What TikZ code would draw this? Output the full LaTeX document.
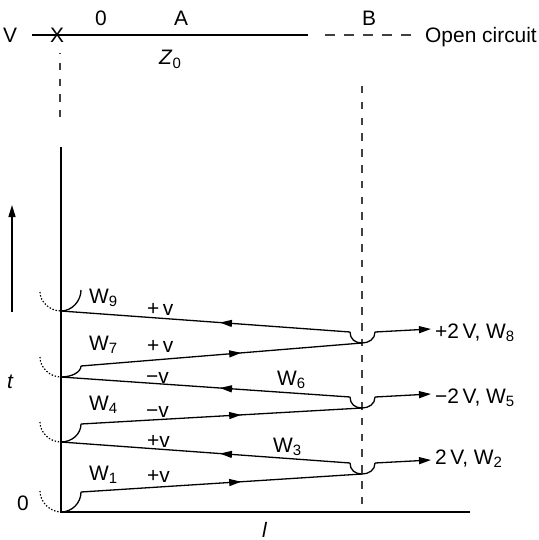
\documentclass[tikz,border=0pt]{standalone}
\usepackage{fontspec}
\setmainfont{Liberation Sans}
\usetikzlibrary{arrows.meta,decorations.markings}
\newcommand\sbs[1]{\raisebox{-0.33ex}{\fontsize{15}{16}\selectfont #1}}
\begin{document}
\begin{tikzpicture}[x=1bp,y=-1bp,
  every node/.style={font=\fontsize{21}{25}\selectfont, inner sep=0pt},
  lbl/.style={anchor=base west},
  wave/.style={line width=1.3bp},
  axisline/.style={line width=1.5bp},
  tip/.style={-{Triangle[length=12bp,width=7bp]}},
  midarrow/.style={wave, postaction={decorate}, decoration={markings,
      mark=at position #1 with {\arrow{Triangle[length=12bp,width=7bp]}}}},
  dotarc/.style={line width=1.2bp, dash pattern=on 1.4bp off 1.8bp},
  vdash/.style={line width=1.4bp, draw=black!75, dash pattern=on 7.5bp off 8.3bp},
  hdash/.style={line width=1.3bp, draw=black!75, dash pattern=on 9.5bp off 9.5bp}
]
\useasboundingbox (0,0) rectangle (539,540);

% ---- top line ----
\coordinate (tl) at (32,35);
\coordinate (tr) at (308,35);
\coordinate (dl) at (325,35);
\coordinate (dr) at (411,35);
\draw[wave] (tl) -- (tr);
\draw[hdash] (dl) -- (dr);
\node[lbl] (v) at (3,43) {V};
\node (x) at (57,35) {X};
\node[anchor=base] (z) at (101,26) {0};
\node[anchor=base] (a) at (181,26) {A};
\node[anchor=base] (b) at (369,26) {B};
\node[lbl] (oc) at (425,43) {Open circuit};
\node[lbl] (z0) at (159,65) {\textit{Z}\sbs{0}};

% ---- axes ----
\coordinate (ld1) at (60,53);
\coordinate (ld2) at (60,117);
\draw[vdash, dash phase=6bp] (ld1) -- (ld2);
\coordinate (ax0) at (61,147);
\coordinate (org) at (61,512);
\coordinate (axe) at (470,512);
\draw[axisline] (ax0) -- (org) -- (axe);
\coordinate (rd1) at (362,86);
\coordinate (rd2) at (362,512);
\draw[vdash] (rd1) -- (rd2);
\coordinate (ta1) at (12,312);
\coordinate (ta2) at (12,205);
\draw[axisline, tip] (ta1) -- (ta2);
\node[lbl] (t) at (7,388) {\textit{t}};
\node[lbl] (t0) at (17,510) {0};
\node[lbl] (ll) at (262,537) {\textit{l}};

% ---- event points ----
\coordinate (L0) at (61,512);
\coordinate (L1) at (61,442);
\coordinate (L2) at (61,377);
\coordinate (L3) at (61,311);
\coordinate (A0) at (81,492);
\coordinate (A1) at (81,424);
\coordinate (A2) at (81,366);
\coordinate (A3) at (81,290);
\coordinate (D0) at (40,491);
\coordinate (D1) at (40,422);
\coordinate (D2) at (40,357);
\coordinate (D3) at (40,292);
\coordinate (R0) at (362,474);
\coordinate (R1) at (362,408);
\coordinate (R2) at (362,343);
\coordinate (Rl0) at (350,463);
\coordinate (Rl1) at (350,397);
\coordinate (Rl2) at (350,332);
\coordinate (Rr0) at (375,463);
\coordinate (Rr1) at (375,397);
\coordinate (Rr2) at (375,332);
\coordinate (O0) at (431,460);
\coordinate (O1) at (431,394);
\coordinate (O2) at (431,329);

% ---- left reflections ----
\draw[dotarc] (D0) .. controls (40,502) and (50,512) .. (L0);
\draw[dotarc] (D1) .. controls (40,433) and (50,442) .. (L1);
\draw[dotarc] (D2) .. controls (40,368) and (50,377) .. (L2);
\draw[dotarc] (D3) .. controls (40,302) and (50,311) .. (L3);
\draw[wave] (L0) .. controls (72,512) and (81,503) .. (A0);
\draw[wave] (L1) .. controls (72,442) and (81,434) .. (A1);
\draw[wave] (L2) .. controls (72,377) and (81,372) .. (A2);
\draw[wave] (L3) .. controls (72,311) and (81,301) .. (A3);

% ---- forward waves ----
\draw[midarrow=0.57] (A0) -- (R0);
\draw[midarrow=0.57] (A1) -- (R1);
\draw[midarrow=0.57] (A2) -- (R2);

% ---- right reflections ----
\draw[wave] (Rl0) .. controls (350,470) and (355,474) .. (R0) .. controls (369,474) and (375,470) .. (Rr0);
\draw[wave] (Rl1) .. controls (350,404) and (355,408) .. (R1) .. controls (369,408) and (375,404) .. (Rr1);
\draw[wave] (Rl2) .. controls (350,339) and (355,343) .. (R2) .. controls (369,343) and (375,339) .. (Rr2);

% ---- backward waves ----
\draw[midarrow=0.45] (Rl0) -- (L1);
\draw[midarrow=0.45] (Rl1) -- (L2);
\draw[midarrow=0.45] (Rl2) -- (L3);

% ---- transmitted ----
\draw[wave, tip] (Rr0) -- (O0);
\draw[wave, tip] (Rr1) -- (O1);
\draw[wave, tip] (Rr2) -- (O2);

% ---- labels ----
\node[lbl] (w1) at (89,480) {W\sbs{1}};
\node[lbl] (p1) at (147,482) {+v};
\node[lbl] (p2) at (147,447) {+v};
\node[lbl] (w3) at (273,452) {W\sbs{3}};
\node[lbl] (w4) at (89,410) {W\sbs{4}};
\node[lbl] (m1) at (146,417) {−v};
\node[lbl] (m2) at (146,383) {−v};
\node[lbl] (w6) at (277,385) {W\sbs{6}};
\node[lbl] (w7) at (89,350) {W\sbs{7}};
\node[lbl] (p3) at (147,352) {+\,v};
\node[lbl] (w9) at (89,303) {W\sbs{9}};
\node[lbl] (p4) at (147,315) {+\,v};
\node[lbl] (r2) at (435,464) {2\,V, W\sbs{2}};
\node[lbl] (r5) at (435,403) {−2\,V, W\sbs{5}};
\node[lbl] (r8) at (435,338) {+2\,V, W\sbs{8}};
\end{tikzpicture}
\end{document}
